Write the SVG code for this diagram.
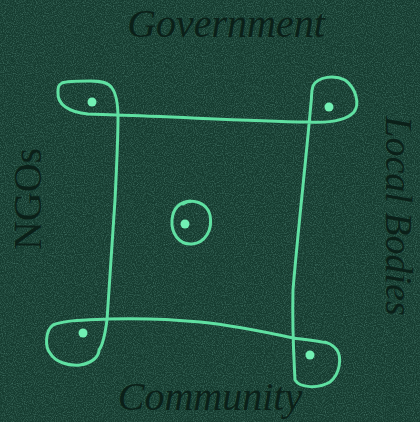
<svg xmlns="http://www.w3.org/2000/svg" width="420" height="422" viewBox="0 0 420 422">
  <defs>
    <filter id="grain" x="0" y="0" width="100%" height="100%">
      <feTurbulence type="fractalNoise" baseFrequency="0.9" numOctaves="2" seed="3" result="n"/>
      <feColorMatrix type="matrix" values="0 0 0 0 0.16  0 0 0 0 0.4  0 0 0 0 0.32  0 0 0 1.1 -0.45"/>
    </filter>
    <style>
      .lbl { font-family: "Liberation Serif", "DejaVu Serif", serif; font-size: 40px; fill: #0a1e17; fill-opacity: 0.95; text-anchor: middle; }
      .it { font-style: italic; }
      .stroke { fill: none; stroke: #5fe0a2; stroke-width: 3; stroke-linecap: round; stroke-linejoin: round; }
      .dot { fill: #72f0b4; }
    </style>
  </defs>
  <rect width="420" height="422" fill="#163c30"/>
  <rect width="420" height="422" filter="url(#grain)" opacity="0.8"/>

  <g id="label-government"><text class="lbl it" x="226" y="37">Government</text></g>
  <g id="label-community"><text class="lbl it" x="210" y="410">Community</text></g>
  <g id="label-ngos"><text class="lbl" transform="translate(41,199) rotate(-90)">NGOs</text></g>
  <g id="label-local-bodies"><text class="lbl it" style="font-size:38px" transform="translate(386,216) rotate(90)">Local Bodies</text></g>

  <g id="connectors">
    <path class="stroke" d="M 58,92 C 57,104 68,112 88,114 L 117,115 C 180,117 250,121 307,122 C 325,123 345,122 354,112 C 360,104 356,88 345,80 C 335,75 318,76 313,86 C 311,92 312,96 311,103 C 306,160 298,230 293,290 C 292,330 294,360 295,380 C 300,388 318,389 330,382 C 340,374 342,358 337,350 C 333,345 327,342 322,342 C 310,340 300,339 293,338 C 270,333 230,325 200,322 C 170,319 140,318 107,319 C 85,320 65,320 53,325 C 45,331 45,347 50,353 C 55,362 68,366 80,365 C 93,363 99,356 99,350 C 103,345 105,335 107,320 C 109,290 112,250 115,200 C 117,160 118,130 118,118 C 118,105 117,95 112,88 C 108,82 100,81 90,81 C 78,81 67,81 62,83 C 58,85 58,88 58,92"/>
  </g>

  <g id="node-center">
    <path class="stroke" d="M 183,204 C 193,198 207,203 210,215 C 213,230 205,243 192,244 C 179,245 171,233 172,220 C 173,208 180,202 190,201"/>
    <circle class="dot" cx="185" cy="224" r="4.5"/>
  </g>
  <g id="node-top-left"><circle class="dot" cx="92" cy="102" r="4.5"/></g>
  <g id="node-top-right"><circle class="dot" cx="329" cy="107" r="4.5"/></g>
  <g id="node-bottom-left"><circle class="dot" cx="83" cy="333" r="4.5"/></g>
  <g id="node-bottom-right"><circle class="dot" cx="310" cy="355" r="4.5"/></g>
</svg>
